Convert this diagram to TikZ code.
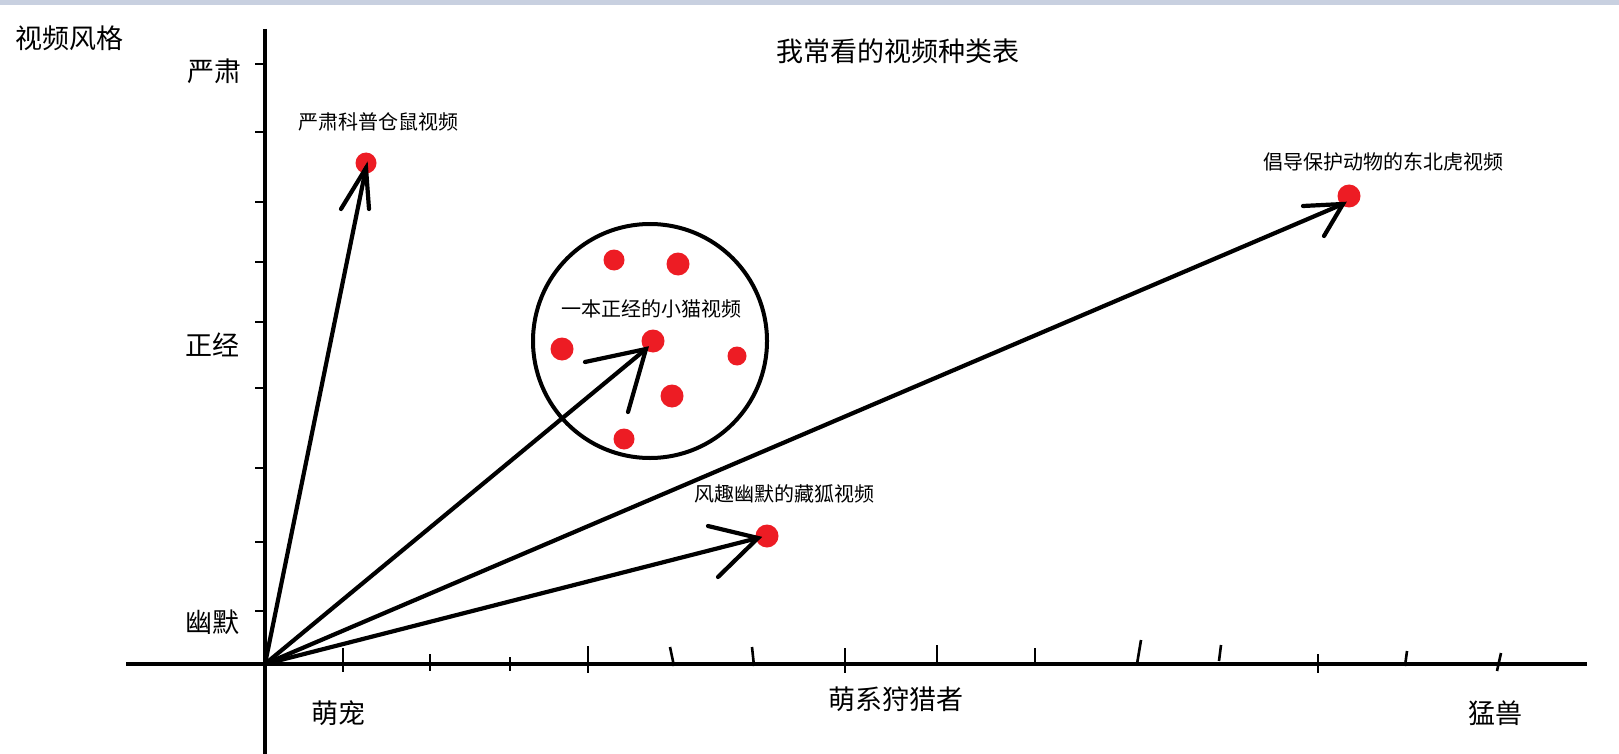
\documentclass[tikz,border=0pt]{standalone}
\usepackage{fontspec}
\newfontfamily\cjk{Noto Sans CJK SC}
\definecolor{dotred}{RGB}{237,28,36}
\definecolor{bandblue}{RGB}{200,208,224}
\tikzset{
  axisline/.style={line width=4.5pt},
  tickline/.style={line width=2.6pt},
  arrowline/.style={line width=4.2pt, line cap=round},
  dot/.style={circle, fill=dotred, inner sep=0pt, minimum size=#1},
  biglabel/.style={font=\cjk\fontsize{27}{31}\selectfont, inner sep=0pt},
  smalllabel/.style={font=\cjk\fontsize{20}{23}\selectfont, inner sep=0pt},
}
\begin{document}
\begin{tikzpicture}[x=1pt,y=-1pt]
\useasboundingbox (0,0) rectangle (1619,754);
\fill[white] (0,0) rectangle (1619,754);
\fill[bandblue] (0,0) rectangle (1619,5);

% axes
\coordinate (O) at (265,664);
\coordinate (ytop) at (265,29);
\coordinate (ybot) at (265,754);
\coordinate (xl) at (126,664);
\coordinate (xr) at (1587,664);
\draw[axisline] (ytop) -- (ybot);
\draw[axisline] (xl) -- (xr);

% vertical ticks
\foreach \yy in {64,132,202,262,322,388,468,542,611}
  \draw[tickline] (255,\yy) -- (265,\yy);

% horizontal ticks
\draw[tickline] (343,648) -- (343,672);
\draw[tickline] (430,654) -- (430,671);
\draw[tickline] (510,657) -- (510,671);
\draw[tickline] (588,646) -- (588,673);
\draw[tickline] (670,647) -- (674,666);
\draw[tickline] (752,647) -- (754,666);
\draw[tickline] (845,648) -- (845,673);
\draw[tickline] (937,645) -- (937,664);
\draw[tickline] (1035,648) -- (1035,666);
\draw[tickline] (1141,640) -- (1137,664);
\draw[tickline] (1221,645) -- (1219,661);
\draw[tickline] (1318,654) -- (1318,673);
\draw[tickline] (1407,651) -- (1405,666);
\draw[tickline] (1501,653) -- (1497,671);

% axis labels
\node[biglabel] (ylab) at (70,38) {视频风格};
\node[biglabel] (title) at (898,51) {我常看的视频种类表};
\node[biglabel] (yan) at (214,71) {严肃};
\node[biglabel] (zheng) at (212,345) {正经};
\node[biglabel] (you) at (212,622) {幽默};
\node[biglabel] (meng) at (338,713) {萌宠};
\node[biglabel] (liechu) at (896,699) {萌系狩猎者};
\node[biglabel] (shou) at (1495,713) {猛兽};

% circle cluster
\node[circle, draw, line width=4pt, minimum size=234pt, inner sep=0pt] (cluster) at (650,341) {};
\node[dot=21pt] (c1) at (614,260) {};
\node[dot=23pt] (c2) at (678,264) {};
\node[dot=23pt] (c3) at (562,349) {};
\node[dot=23pt] (cat) at (653,341) {};
\node[dot=19pt] (c5) at (737,356) {};
\node[dot=23pt] (c6) at (672,396) {};
\node[dot=21pt] (c7) at (624,439) {};

% other dots
\node[dot=21pt] (hamster) at (366,163) {};
\node[dot=23pt] (tiger) at (1349,196) {};
\node[dot=23pt] (fox) at (767,536) {};

% labels of dots
\node[smalllabel] (lhamster) at (378,122) {严肃科普仓鼠视频};
\node[smalllabel] (ltiger) at (1383,162) {倡导保护动物的东北虎视频};
\node[smalllabel] (lcat) at (651,309) {一本正经的小猫视频};
\node[smalllabel] (lfox) at (784,494) {风趣幽默的藏狐视频};

% arrows
\coordinate (th) at (366,168);
\coordinate (h1) at (341,209);
\coordinate (h2) at (369,209);
\draw[arrowline] (O) -- (th);
\draw[arrowline] (h1) -- (th) -- (h2);

\coordinate (tc) at (646,349);
\coordinate (c1a) at (585,362);
\coordinate (c2a) at (628,412);
\draw[arrowline] (O) -- (tc);
\draw[arrowline] (c1a) -- (tc) -- (c2a);

\coordinate (tt) at (1343,204);
\coordinate (t1a) at (1303,206);
\coordinate (t2a) at (1324,236);
\draw[arrowline] (O) -- (tt);
\draw[arrowline] (t1a) -- (tt) -- (t2a);

\coordinate (tf) at (758,538);
\coordinate (f1a) at (708,526);
\coordinate (f2a) at (718,577);
\draw[arrowline] (O) -- (tf);
\draw[arrowline] (f1a) -- (tf) -- (f2a);
\end{tikzpicture}
\end{document}
